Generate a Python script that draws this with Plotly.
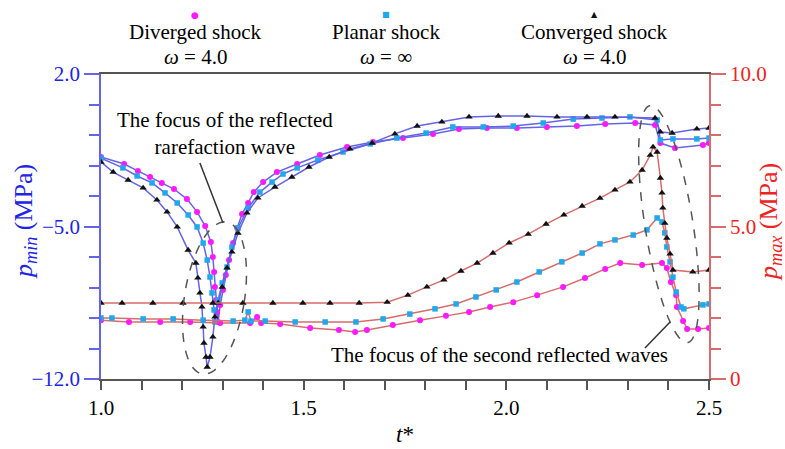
import numpy as np
import plotly.graph_objects as go

# ---------------- data ----------------
# p_min (left axis, MPa)
t_min_div = [1.000, 1.057, 1.091, 1.121, 1.150, 1.180, 1.212, 1.237, 1.257, 1.271, 1.276, 1.279, 1.281,
             1.284, 1.286, 1.289, 1.294, 1.301, 1.308, 1.316, 1.326, 1.336, 1.348, 1.363, 1.377, 1.400,
             1.434, 1.484, 1.540, 1.607, 1.671, 1.745, 1.819, 1.883, 1.952, 2.026, 2.100, 2.174, 2.244,
             2.318, 2.367, 2.380, 2.416, 2.485, 2.500]
p_min_div = [-1.81, -2.13, -2.45, -2.73, -3.00, -3.28, -3.74, -4.33, -4.98, -5.71, -6.40, -7.09, -7.78,
             -8.37, -8.92, -9.38, -8.60, -7.91, -7.23, -6.54, -5.76, -5.07, -4.43, -3.92, -3.42, -2.96,
             -2.50, -2.13, -1.72, -1.35, -1.12, -0.94, -0.75, -0.52, -0.48, -0.48, -0.43, -0.39, -0.30,
             -0.25, -0.34, -1.17, -1.40, -1.26, -1.17]

t_min_pla = [1.000, 1.054, 1.089, 1.126, 1.158, 1.188, 1.215, 1.237, 1.252, 1.262, 1.269, 1.274, 1.279,
             1.281, 1.289, 1.299, 1.311, 1.323, 1.338, 1.363, 1.392, 1.422, 1.449, 1.484, 1.535, 1.597,
             1.664, 1.730, 1.802, 1.868, 1.943, 2.017, 2.091, 2.165, 2.236, 2.305, 2.372, 2.380, 2.411,
             2.470, 2.500]
p_min_pla = [-1.86, -2.31, -2.68, -3.00, -3.46, -3.92, -4.47, -5.02, -5.76, -6.54, -7.32, -8.05, -8.83,
             -9.38, -8.37, -7.59, -6.86, -5.94, -5.07, -4.15, -3.42, -2.96, -2.59, -2.31, -1.95, -1.58,
             -1.21, -0.94, -0.71, -0.43, -0.43, -0.39, -0.25, -0.07, -0.02, 0.03, -0.11, -1.03, -0.98,
             -0.98, -0.94]

t_min_con = [1.000, 1.030, 1.067, 1.104, 1.138, 1.163, 1.188, 1.215, 1.234, 1.239, 1.244, 1.249, 1.252,
             1.254, 1.259, 1.262, 1.269, 1.276, 1.281, 1.289, 1.299, 1.311, 1.323, 1.338, 1.360, 1.387,
             1.429, 1.471, 1.513, 1.563, 1.614, 1.669, 1.725, 1.780, 1.841, 1.908, 1.980, 2.051, 2.125,
             2.199, 2.268, 2.367, 2.380, 2.409, 2.470, 2.500]
p_min_con = [-2.04, -2.50, -2.87, -3.23, -3.78, -4.33, -5.02, -6.08, -6.68, -7.36, -8.05, -8.69, -9.61,
             -10.35, -10.99, -11.45, -10.99, -10.07, -9.15, -8.51, -7.78, -6.90, -6.17, -5.30, -4.38, -3.69,
             -3.19, -2.73, -2.27, -1.81, -1.44, -1.17, -0.75, -0.39, -0.20, 0.03, 0.07, 0.07, 0.03,
             0.03, 0.03, -0.02, -0.66, -0.71, -0.52, -0.48]

# p_max (right axis, MPa)
t_max_div = [1.000, 1.069, 1.146, 1.220, 1.294, 1.368, 1.385, 1.395, 1.442, 1.516, 1.587, 1.627, 1.656,
             1.720, 1.787, 1.851, 1.908, 1.960, 2.017, 2.076, 2.140, 2.194, 2.244, 2.281, 2.335, 2.384,
             2.396, 2.406, 2.419, 2.421, 2.436, 2.446, 2.473, 2.500]
p_max_div = [1.93, 1.87, 1.87, 1.87, 1.84, 1.84, 2.03, 1.84, 1.80, 1.67, 1.61, 1.54, 1.61,
             1.77, 1.93, 2.07, 2.20, 2.36, 2.52, 2.75, 3.02, 3.31, 3.61, 3.80, 3.74, 3.80,
             3.64, 3.18, 2.75, 2.36, 1.90, 1.64, 1.64, 1.67]

t_max_pla = [1.000, 1.027, 1.104, 1.178, 1.252, 1.326, 1.355, 1.363, 1.370, 1.405, 1.479, 1.553, 1.629,
             1.696, 1.762, 1.824, 1.876, 1.925, 1.975, 2.026, 2.081, 2.137, 2.187, 2.231, 2.268, 2.313,
             2.347, 2.372, 2.384, 2.391, 2.396, 2.404, 2.411, 2.419, 2.431, 2.438, 2.485, 2.500]
p_max_pla = [2.00, 2.00, 1.97, 1.97, 1.93, 1.90, 1.93, 2.20, 1.90, 1.90, 1.87, 1.87, 1.87,
             1.97, 2.13, 2.30, 2.46, 2.69, 2.92, 3.18, 3.51, 3.84, 4.13, 4.43, 4.56, 4.72,
             4.89, 5.28, 5.15, 4.79, 4.33, 3.84, 3.34, 2.85, 2.36, 2.30, 2.43, 2.46]

t_max_con = [1.000, 1.052, 1.128, 1.202, 1.276, 1.350, 1.424, 1.498, 1.565, 1.637, 1.706, 1.757, 1.804,
             1.846, 1.888, 1.928, 1.967, 2.007, 2.054, 2.098, 2.142, 2.187, 2.231, 2.268, 2.305, 2.335,
             2.355, 2.362, 2.372, 2.380, 2.384, 2.386, 2.391, 2.396, 2.404, 2.411, 2.460, 2.500]
p_max_con = [2.49, 2.49, 2.49, 2.49, 2.49, 2.49, 2.49, 2.49, 2.49, 2.49, 2.52, 2.75, 3.02,
             3.25, 3.54, 3.80, 4.13, 4.46, 4.75, 5.08, 5.38, 5.67, 5.93, 6.20, 6.46, 6.85,
             7.34, 7.61, 7.44, 6.59, 6.10, 5.61, 5.11, 4.62, 4.10, 3.57, 3.51, 3.57]

series_names = ["Diverged shock", "Planar shock", "Converged shock"]
omega_labels = ["4.0", "∞", "4.0"]
x_ticks = [1.0, 1.5, 2.0, 2.5]
x_ticktext = ["1.0", "1.5", "2.0", "2.5"]
yl_ticks = [2.0, -5.0, -12.0]
yl_ticktext = ["2.0", "−5.0", "−12.0"]
yr_ticks = [0, 5, 10]
yr_ticktext = ["0", "5.0", "10.0"]

# ---------------- styling ----------------
FONT = "Liberation Serif"
BLUE_LINE = "#6464e6"
RED_LINE = "#d86c6c"
BLUE_TXT = "#2323e6"
RED_TXT = "#ee2222"
MAG = "#ff19ff"
CYA = "#1fa8ec"
BLK = "#111111"
TS = 21  # general text size

W, H = 785, 449
ML, MR, MT, MB = 101, 76, 74, 70
PW, PH = W - ML - MR, H - MT - MB
X0, X1 = 1.0, 2.5
YL0, YL1 = -12.0, 2.0
YR0, YR1 = 0.0, 10.0

fig = go.Figure()

mk = [dict(symbol="circle", color=MAG, size=6),
      dict(symbol="square", color=CYA, size=5.5),
      dict(symbol="triangle-up", color=BLK, size=6.5)]

for t, p, m, nm in [(t_max_div, p_max_div, mk[0], series_names[0]),
                    (t_max_pla, p_max_pla, mk[1], series_names[1]),
                    (t_max_con, p_max_con, mk[2], series_names[2])]:
    fig.add_trace(go.Scatter(x=t, y=p, yaxis="y2", mode="lines+markers", name=nm,
                             line=dict(color=RED_LINE, width=1.5), marker=m, showlegend=False))

for t, p, m, nm in [(t_min_div, p_min_div, mk[0], series_names[0]),
                    (t_min_pla, p_min_pla, mk[1], series_names[1]),
                    (t_min_con, p_min_con, mk[2], series_names[2])]:
    fig.add_trace(go.Scatter(x=t, y=p, yaxis="y", mode="lines+markers", name=nm,
                             line=dict(color=BLUE_LINE, width=1.5), marker=m, showlegend=False))

# ---------------- annotation geometry ----------------
sx = PW / (X1 - X0)
sy = PH / (YL1 - YL0)


def ellipse_path(tc, pc, a_px, b_px, tilt_deg):
    th = np.linspace(0, 2 * np.pi, 90)
    ang = np.radians(tilt_deg)
    u = b_px * np.cos(th)
    v = a_px * np.sin(th)
    dx = u * np.cos(ang) + v * np.sin(ang)
    dy = -u * np.sin(ang) + v * np.cos(ang)
    xs = tc + dx / sx
    ys = pc + dy / sy
    pts = [f"{x:.4f},{y:.4f}" for x, y in zip(xs, ys)]
    return "M " + " L ".join(pts) + " Z"


shapes = [
    dict(type="path", xref="x", yref="y", path=ellipse_path(1.280, -8.28, 77, 30, 9),
         line=dict(color="#555555", width=1.5, dash="dash")),
    dict(type="path", xref="x", yref="y", path=ellipse_path(2.401, -4.89, 120, 24, -9),
         line=dict(color="#555555", width=1.5, dash="dash")),
    dict(type="line", xref="x", yref="y", x0=1.244, y0=-2.09, x1=1.301, y1=-4.84,
         line=dict(color="#333333", width=1.5)),
    dict(type="line", xref="x", yref="y", x0=2.342, y0=-10.58, x1=2.404, y1=-9.38,
         line=dict(color="#333333", width=1.5)),
]


def py2paper(py):
    return (MT + PH - py) / PH


def px2paper(px):
    return (px - ML) / PW


def text_ann(x, y, text, font, xref="paper", yref="paper", **kw):
    d = dict(x=x, y=y, xref=xref, yref=yref, text=text, showarrow=False, font=font,
             xanchor="center", yanchor="middle")
    d.update(kw)
    return d


ann = []
# legend (markers above names)
leg_px = [195, 386, 594]
glyphs = [("●", MAG, 9), ("■", CYA, 8), ("▲", BLK, 8)]
for i in range(3):
    g, c, s = glyphs[i]
    ann.append(text_ann(px2paper(leg_px[i]), py2paper(15), g, dict(family="DejaVu Sans", size=s, color=c)))
    ann.append(text_ann(px2paper(leg_px[i]), py2paper(32), series_names[i],
                        dict(family=FONT, size=TS, color="black")))
    ann.append(text_ann(px2paper(leg_px[i]), py2paper(57), f"<i>ω</i> = {omega_labels[i]}",
                        dict(family=FONT, size=TS, color="black")))

ann.append(text_ann(1.306, -0.75, "The focus of the reflected<br>rarefaction wave",
                    dict(family=FONT, size=TS, color="black"), xref="x", yref="y"))
ann.append(text_ann(1.982, -10.90, "The focus of the second reflected waves",
                    dict(family=FONT, size=TS, color="black"), xref="x", yref="y"))

# axis titles
ann.append(text_ann(px2paper(25), py2paper(222), "<i>p<sub>min</sub></i> (MPa)",
                    dict(family=FONT, size=26, color=BLUE_TXT), textangle=-90))
ann.append(text_ann(px2paper(770), py2paper(222), "<i>p<sub>max</sub></i> (MPa)",
                    dict(family=FONT, size=26, color=RED_TXT), textangle=-90))
ann.append(text_ann(px2paper(405), py2paper(434), "<i>t</i>*",
                    dict(family=FONT, size=23, color="black")))

x_minor = [round(1.0 + 0.1 * k, 1) for k in range(16) if k % 5 != 0]
yl_minor = [round(2.0 - 1.4 * k, 1) for k in range(11) if k % 5 != 0]
yr_minor = [k for k in range(11) if k % 5 != 0]

fig.update_layout(
    width=W, height=H, margin=dict(l=ML, r=MR, t=MT, b=MB, pad=0),
    paper_bgcolor="white", plot_bgcolor="white",
    shapes=shapes, annotations=ann,
    xaxis=dict(range=[X0, X1], showgrid=False, zeroline=False, showline=True, linecolor="#555555",
               linewidth=1.5, mirror=True, ticks="outside", ticklen=9, tickwidth=1.5, tickcolor="#555555",
               tickmode="array", tickvals=x_ticks, ticktext=x_ticktext,
               tickfont=dict(family=FONT, size=TS, color="black"),
               minor=dict(tickmode="array", tickvals=x_minor, ticks="outside", ticklen=9,
                          tickwidth=1.5, tickcolor="#555555", showgrid=False)),
    yaxis=dict(range=[YL0, YL1], showgrid=False, zeroline=False, showline=True, linecolor=BLUE_LINE,
               linewidth=1.5, ticks="outside", ticklen=15, tickwidth=1.5, tickcolor=BLUE_LINE,
               tickmode="array", tickvals=yl_ticks, ticktext=yl_ticktext,
               tickfont=dict(family=FONT, size=TS, color=BLUE_TXT),
               minor=dict(tickmode="array", tickvals=yl_minor, ticks="outside", ticklen=10,
                          tickwidth=1.5, tickcolor=BLUE_LINE, showgrid=False)),
    yaxis2=dict(range=[YR0, YR1], overlaying="y", side="right", showgrid=False, zeroline=False,
                showline=True, linecolor=RED_LINE, linewidth=1.5, ticks="outside", ticklen=15,
                tickwidth=1.5, tickcolor=RED_LINE, tickmode="array", tickvals=yr_ticks,
                ticktext=yr_ticktext, tickfont=dict(family=FONT, size=TS, color=RED_TXT),
                minor=dict(tickmode="array", tickvals=yr_minor, ticks="outside", ticklen=10,
                           tickwidth=1.5, tickcolor=RED_LINE, showgrid=False)),
)

fig.write_html("out.html")
